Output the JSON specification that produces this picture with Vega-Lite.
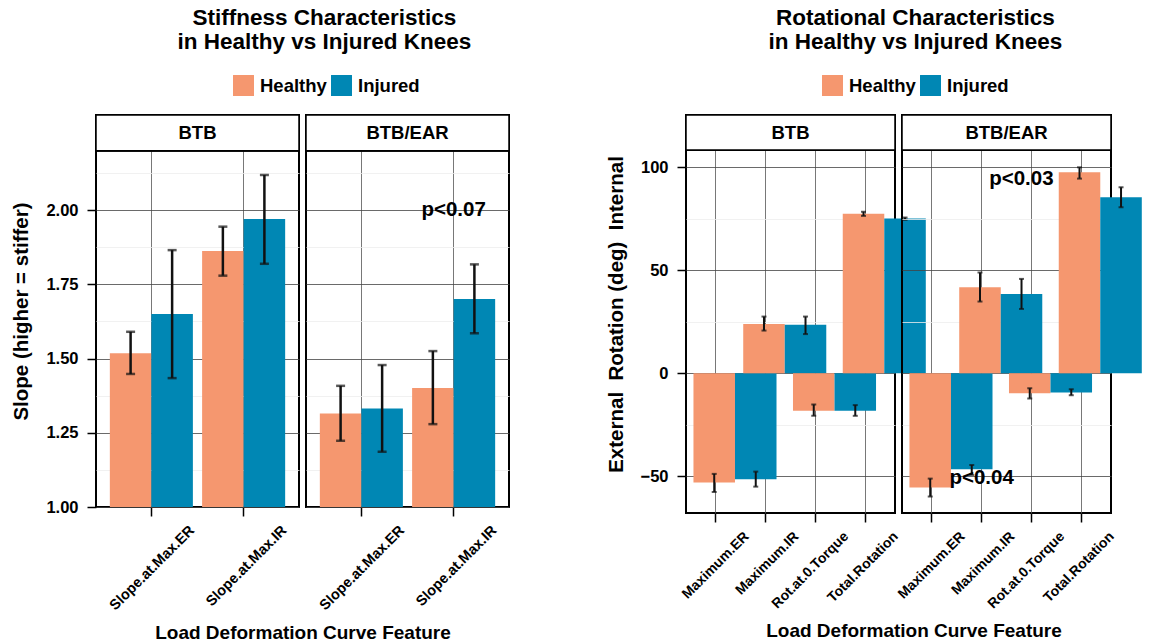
{
  "$schema": "https://vega.github.io/schema/vega-lite/v6.json",
  "background": "white",
  "padding": {"left": 11, "top": 6, "right": 4, "bottom": 2},
  "spacing": 95,
  "config": {
    "font": "Liberation Sans",
    "view": {"stroke": "black", "strokeWidth": 2},
    "axis": {"labelColor": "black", "titleColor": "black", "labelFont": "Liberation Sans", "titleFont": "Liberation Sans"},
    "header": {"titleFont": "Liberation Sans", "titleFontSize": 19, "titleFontWeight": "bold", "titleColor": "black"}
  },
  "resolve": {"scale": {"color": "independent", "y": "independent", "x": "independent"}, "legend": {"color": "independent"}},
  "hconcat": [
    {
      "title": {"text": ["Stiffness Characteristics", "in Healthy vs Injured Knees"], "fontSize": 22.5, "fontWeight": "bold", "anchor": "middle", "dx": 63, "lineHeight": 24, "color": "black", "offset": 22},
      "data": {"values": [
        {"panel": "BTB", "feature": "Slope.at.Max.ER", "group": "Healthy", "mean": 1.518, "lo": 1.448, "hi": 1.590},
        {"panel": "BTB", "feature": "Slope.at.Max.ER", "group": "Injured", "mean": 1.650, "lo": 1.434, "hi": 1.865},
        {"panel": "BTB", "feature": "Slope.at.Max.IR", "group": "Healthy", "mean": 1.862, "lo": 1.779, "hi": 1.944},
        {"panel": "BTB", "feature": "Slope.at.Max.IR", "group": "Injured", "mean": 1.970, "lo": 1.819, "hi": 2.118},
        {"panel": "BTB/EAR", "feature": "Slope.at.Max.ER", "group": "Healthy", "mean": 1.315, "lo": 1.223, "hi": 1.408},
        {"panel": "BTB/EAR", "feature": "Slope.at.Max.ER", "group": "Injured", "mean": 1.332, "lo": 1.186, "hi": 1.478},
        {"panel": "BTB/EAR", "feature": "Slope.at.Max.IR", "group": "Healthy", "mean": 1.401, "lo": 1.279, "hi": 1.525},
        {"panel": "BTB/EAR", "feature": "Slope.at.Max.IR", "group": "Injured", "mean": 1.700, "lo": 1.585, "hi": 1.817, "note": "p<0.07", "note_y": 2.0}
      ]},
      "spacing": 7,
      "bounds": "flush",
      "facet": {"column": {"field": "panel", "type": "nominal", "sort": ["BTB", "BTB/EAR"], "title": "Load Deformation Curve Feature",
                           "header": {"labels": false, "titleOrient": "bottom", "titlePadding": 1}}},
      "spec": {
        "width": 203,
        "height": 392,
        "layer": [
          {
            "mark": {"type": "bar"},
            "encoding": {
              "x": {"field": "feature", "type": "nominal", "sort": ["Slope.at.Max.ER", "Slope.at.Max.IR"],
                    "scale": {"paddingInner": 0.1, "paddingOuter": 0.15},
                    "axis": {"title": null, "labelAngle": -45, "labelFontSize": 14.5, "labelFontWeight": "bold", "labelPadding": 7, "labelOffset": 36,
                             "grid": true, "gridColor": "#555", "gridWidth": 0.8,
                             "domain": false, "tickColor": "black", "tickWidth": 1.5, "tickSize": 9}},
              "xOffset": {"field": "group", "type": "nominal", "scale": {"paddingInner": 0, "paddingOuter": 0}},
              "y": {"field": "mean", "type": "quantitative",
                    "scale": {"domain": [1.0, 2.32], "nice": false, "zero": false},
                    "axis": {"title": "Slope (higher = stiffer)", "titleFontSize": 20.5, "titleFontWeight": "bold", "titlePadding": 14,
                             "values": [1.0, 1.125, 1.25, 1.375, 1.5, 1.625, 1.75, 1.875, 2.0, 2.125],
                             "labelExpr": "(datum.value*4) % 1 == 0 ? format(datum.value, '.2f') : ''",
                             "labelFontSize": 16.5, "labelFontWeight": "bold", "labelPadding": 9, "domain": false,
                             "gridColor": {"condition": {"test": "(datum.value*4) % 1 != 0", "value": "#eeeeee"}, "value": "#444444"},
                             "gridWidth": 0.8,
                             "tickOpacity": {"condition": {"test": "(datum.value*4) % 1 != 0", "value": 0}, "value": 1},
                             "tickColor": "black", "tickWidth": 1.5, "tickSize": 9}},
              "y2": {"datum": 1.0},
              "color": {"field": "group", "type": "nominal",
                        "scale": {"domain": ["Healthy", "Injured"], "range": ["#F5976F", "#0087B4"]},
                        "legend": {"title": null, "orient": "none", "legendX": 137, "legendY": -40, "direction": "horizontal", "symbolType": "square", "symbolSize": 440,
                                   "symbolStrokeWidth": 0, "labelFontSize": 18.5, "labelFontWeight": "bold", "labelColor": "black", "columnPadding": 4, "labelOffset": 6, "padding": 0}}
            }
          },
          {
            "mark": {"type": "rule", "color": "#111", "strokeWidth": 2.5},
            "encoding": {
              "x": {"field": "feature", "type": "nominal", "sort": ["Slope.at.Max.ER", "Slope.at.Max.IR"]},
              "xOffset": {"field": "group", "type": "nominal"},
              "y": {"field": "lo", "type": "quantitative"},
              "y2": {"field": "hi"}
            }
          },
          {
            "mark": {"type": "tick", "color": "#111", "thickness": 2.5, "size": 9, "orient": "horizontal"},
            "encoding": {
              "x": {"field": "feature", "type": "nominal", "sort": ["Slope.at.Max.ER", "Slope.at.Max.IR"]},
              "xOffset": {"field": "group", "type": "nominal"},
              "y": {"field": "lo", "type": "quantitative"}
            }
          },
          {
            "mark": {"type": "tick", "color": "#111", "thickness": 2.5, "size": 9, "orient": "horizontal"},
            "encoding": {
              "x": {"field": "feature", "type": "nominal", "sort": ["Slope.at.Max.ER", "Slope.at.Max.IR"]},
              "xOffset": {"field": "group", "type": "nominal"},
              "y": {"field": "hi", "type": "quantitative"}
            }
          },
          {
            "transform": [{"filter": "datum.note"}],
            "mark": {"type": "text", "fontSize": 20.5, "fontWeight": "bold", "color": "black", "align": "center", "baseline": "middle"},
            "encoding": {
              "x": {"field": "feature", "type": "nominal", "sort": ["Slope.at.Max.ER", "Slope.at.Max.IR"]},
              "y": {"field": "note_y", "type": "quantitative"},
              "text": {"field": "note"}
            }
          },
          {
            "mark": {"type": "rect", "fill": "white", "stroke": "black", "strokeWidth": 1.5},
            "encoding": {
              "y": {"datum": 2.2},
              "y2": {"datum": 2.32}
            }
          },
          {
            "transform": [{"aggregate": [{"op": "count", "as": "n"}], "groupby": ["panel"]}],
            "mark": {"type": "text", "fontSize": 18.5, "fontWeight": "bold", "color": "black", "align": "center", "baseline": "middle"},
            "encoding": {
              "y": {"datum": 2.26},
              "text": {"field": "panel"}
            }
          }
        ]
      }
    },
    {
      "title": {"text": ["Rotational Characteristics", "in Healthy vs Injured Knees"], "fontSize": 22.5, "fontWeight": "bold", "anchor": "middle", "dx": 41, "lineHeight": 24, "color": "black", "offset": 22},
      "data": {"values": [
        {"panel": "BTB", "feature": "Maximum.ER", "group": "Healthy", "mean": -53.1, "lo": -57.7, "hi": -48.9},
        {"panel": "BTB", "feature": "Maximum.ER", "group": "Injured", "mean": -51.5, "lo": -55.1, "hi": -47.8},
        {"panel": "BTB", "feature": "Maximum.IR", "group": "Healthy", "mean": 23.9, "lo": 20.7, "hi": 27.5},
        {"panel": "BTB", "feature": "Maximum.IR", "group": "Injured", "mean": 23.5, "lo": 19.0, "hi": 27.5},
        {"panel": "BTB", "feature": "Rot.at.0.Torque", "group": "Healthy", "mean": -18.2, "lo": -20.7, "hi": -15.2},
        {"panel": "BTB", "feature": "Rot.at.0.Torque", "group": "Injured", "mean": -18.2, "lo": -20.7, "hi": -15.5},
        {"panel": "BTB", "feature": "Total.Rotation", "group": "Healthy", "mean": 77.4, "lo": 76.4, "hi": 78.4},
        {"panel": "BTB", "feature": "Total.Rotation", "group": "Injured", "mean": 75.1, "lo": 74.5, "hi": 75.6},
        {"panel": "BTB/EAR", "feature": "Maximum.ER", "group": "Healthy", "mean": -55.5, "lo": -59.9, "hi": -51.2},
        {"panel": "BTB/EAR", "feature": "Maximum.ER", "group": "Injured", "mean": -46.6, "lo": -49.4, "hi": -44.6},
        {"panel": "BTB/EAR", "feature": "Maximum.IR", "group": "Healthy", "mean": 41.7, "lo": 34.8, "hi": 48.9, "note": "p<0.04", "note_y": -50.9},
        {"panel": "BTB/EAR", "feature": "Maximum.IR", "group": "Injured", "mean": 38.5, "lo": 31.2, "hi": 45.8},
        {"panel": "BTB/EAR", "feature": "Rot.at.0.Torque", "group": "Healthy", "mean": -9.7, "lo": -12.3, "hi": -7.3, "note": "p<0.03", "note_y": 94.4},
        {"panel": "BTB/EAR", "feature": "Rot.at.0.Torque", "group": "Injured", "mean": -9.4, "lo": -10.7, "hi": -7.8},
        {"panel": "BTB/EAR", "feature": "Total.Rotation", "group": "Healthy", "mean": 97.6, "lo": 94.5, "hi": 100.0},
        {"panel": "BTB/EAR", "feature": "Total.Rotation", "group": "Injured", "mean": 85.4, "lo": 80.6, "hi": 90.3}
      ]},
      "spacing": 7,
      "bounds": "flush",
      "facet": {"column": {"field": "panel", "type": "nominal", "sort": ["BTB", "BTB/EAR"], "title": "Load Deformation Curve Feature",
                           "header": {"labels": false, "titleOrient": "bottom", "titlePadding": 1}}},
      "spec": {
        "width": 209,
        "height": 398,
        "layer": [
          {
            "mark": {"type": "bar"},
            "encoding": {
              "x": {"field": "feature", "type": "nominal", "sort": ["Maximum.ER", "Maximum.IR", "Rot.at.0.Torque", "Total.Rotation"],
                    "scale": {"paddingInner": 0.1, "paddingOuter": 0.15},
                    "axis": {"title": null, "labelAngle": -45, "labelFontSize": 14, "labelFontWeight": "bold", "labelPadding": 7, "labelOffset": 26,
                             "grid": true, "gridColor": "#555", "gridWidth": 0.8,
                             "domain": false, "tickColor": "black", "tickWidth": 1.5, "tickSize": 9}},
              "xOffset": {"field": "group", "type": "nominal", "scale": {"paddingInner": 0, "paddingOuter": 0}},
              "y": {"field": "mean", "type": "quantitative",
                    "scale": {"domain": [-67.9, 125.4], "nice": false, "zero": false},
                    "axis": {"title": "External\u00a0 Rotation (deg)\u00a0 Internal", "titleFontSize": 20.5, "titleFontWeight": "bold", "titlePadding": 14,
                             "values": [-50, -25, 0, 25, 50, 75, 100],
                             "labelExpr": "datum.value % 50 == 0 ? datum.label : ''",
                             "labelFontSize": 16.5, "labelFontWeight": "bold", "labelPadding": 9, "domain": false,
                             "gridColor": {"condition": {"test": "datum.value % 50 != 0", "value": "#eeeeee"}, "value": "#444444"},
                             "gridWidth": 0.8,
                             "tickOpacity": {"condition": {"test": "datum.value % 50 != 0", "value": 0}, "value": 1},
                             "tickColor": "black", "tickWidth": 1.5, "tickSize": 9}},
              "y2": {"datum": 0},
              "color": {"field": "group", "type": "nominal",
                        "scale": {"domain": ["Healthy", "Injured"], "range": ["#F5976F", "#0087B4"]},
                        "legend": {"title": null, "orient": "none", "legendX": 136, "legendY": -40, "direction": "horizontal", "symbolType": "square", "symbolSize": 440,
                                   "symbolStrokeWidth": 0, "labelFontSize": 18.5, "labelFontWeight": "bold", "labelColor": "black", "columnPadding": 4, "labelOffset": 6, "padding": 0}}
            }
          },
          {
            "mark": {"type": "rule", "color": "#111", "strokeWidth": 2},
            "encoding": {
              "x": {"field": "feature", "type": "nominal", "sort": ["Maximum.ER", "Maximum.IR", "Rot.at.0.Torque", "Total.Rotation"]},
              "xOffset": {"field": "group", "type": "nominal"},
              "y": {"field": "lo", "type": "quantitative"},
              "y2": {"field": "hi"}
            }
          },
          {
            "mark": {"type": "tick", "color": "#111", "thickness": 2, "size": 5, "orient": "horizontal"},
            "encoding": {
              "x": {"field": "feature", "type": "nominal", "sort": ["Maximum.ER", "Maximum.IR", "Rot.at.0.Torque", "Total.Rotation"]},
              "xOffset": {"field": "group", "type": "nominal"},
              "y": {"field": "lo", "type": "quantitative"}
            }
          },
          {
            "mark": {"type": "tick", "color": "#111", "thickness": 2, "size": 5, "orient": "horizontal"},
            "encoding": {
              "x": {"field": "feature", "type": "nominal", "sort": ["Maximum.ER", "Maximum.IR", "Rot.at.0.Torque", "Total.Rotation"]},
              "xOffset": {"field": "group", "type": "nominal"},
              "y": {"field": "hi", "type": "quantitative"}
            }
          },
          {
            "transform": [{"filter": "datum.note == 'p<0.03'"}],
            "mark": {"type": "text", "fontSize": 20.5, "fontWeight": "bold", "color": "black", "align": "center", "baseline": "middle", "dx": -10},
            "encoding": {
              "x": {"field": "feature", "type": "nominal", "sort": ["Maximum.ER", "Maximum.IR", "Rot.at.0.Torque", "Total.Rotation"]},
              "y": {"field": "note_y", "type": "quantitative"},
              "text": {"field": "note"}
            }
          },
          {
            "transform": [{"filter": "datum.note == 'p<0.04'"}],
            "mark": {"type": "text", "fontSize": 20.5, "fontWeight": "bold", "color": "black", "align": "center", "baseline": "middle"},
            "encoding": {
              "x": {"field": "feature", "type": "nominal", "sort": ["Maximum.ER", "Maximum.IR", "Rot.at.0.Torque", "Total.Rotation"]},
              "y": {"field": "note_y", "type": "quantitative"},
              "text": {"field": "note"}
            }
          },
          {
            "mark": {"type": "rect", "fill": "white", "stroke": "black", "strokeWidth": 1.5},
            "encoding": {
              "y": {"datum": 108.4},
              "y2": {"datum": 125.4}
            }
          },
          {
            "transform": [{"aggregate": [{"op": "count", "as": "n"}], "groupby": ["panel"]}],
            "mark": {"type": "text", "fontSize": 18.5, "fontWeight": "bold", "color": "black", "align": "center", "baseline": "middle"},
            "encoding": {
              "y": {"datum": 116.9},
              "text": {"field": "panel"}
            }
          }
        ]
      }
    }
  ]
}
